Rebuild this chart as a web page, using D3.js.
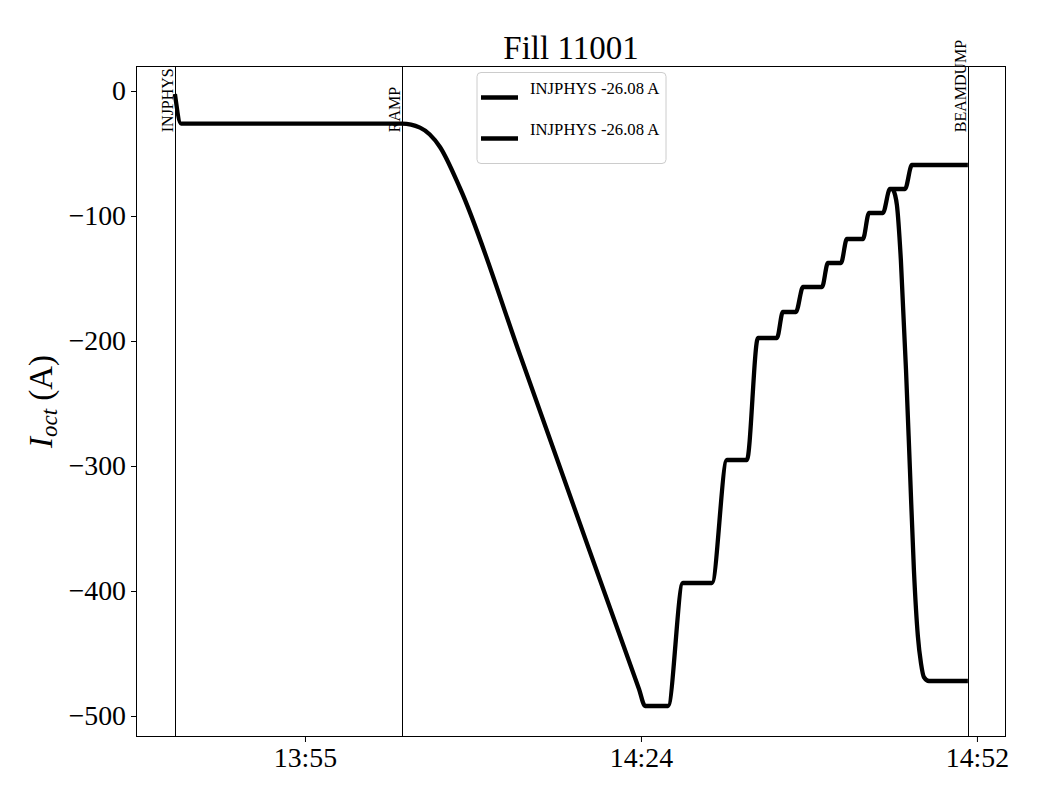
<!DOCTYPE html>
<html>
<head>
<meta charset="utf-8">
<script src="https://cdnjs.cloudflare.com/ajax/libs/d3/7.8.5/d3.min.js"></script>
<style>
  body { margin: 0; background: #fff; }
  svg text { font-family: "Liberation Serif", "Times New Roman", serif; fill: #000; }
</style>
</head>
<body>
<div id="chart"></div>
<script>
// octupole current, main trace (time, amps)
var mainTimes = ["13:44:52", "13:45:23", "14:04:01", "14:05:32", "14:07:13", "14:08:54",
  "14:14:00", "14:19:00", "14:24:00", "14:24:31", "14:26:27", "14:27:42", "14:30:09", "14:31:25",
  "14:33:06", "14:34:02", "14:35:38", "14:36:08", "14:37:14", "14:37:50", "14:39:26", "14:39:56",
  "14:41:02", "14:41:32", "14:42:53", "14:43:24", "14:44:34", "14:45:10", "14:46:26", "14:47:01",
  "14:51:44"];
var mainValues = [-2.4, -26.08, -26.08, -29.3, -44.8, -77.6,
  -212, -345.6, -478.4, -492, -492, -393.6, -393.6, -295.2,
  -295.2, -197.6, -197.6, -176.8, -176.8, -156.8, -156.8, -137.6,
  -137.6, -118.4, -118.4, -97.6, -97.6, -78.4, -78.4, -59.2,
  -59.2];

// second trace, the drop before the dump
var dropTimes = ["14:45:25", "14:45:45", "14:46:05", "14:46:31", "14:46:51", "14:47:11",
  "14:47:31", "14:47:47", "14:48:02", "14:48:27", "14:51:44"];
var dropValues = [-78.4, -91.2, -135, -223, -303, -383, -436, -458, -469, -472, -472];

var legendLabels = ["INJPHYS -26.08 A", "INJPHYS -26.08 A"];

var eventNames = ["INJPHYS", "RAMP", "BEAMDUMP"];
var eventTimes = ["13:44:52", "14:04:01", "14:51:44"];
var eventLabelLevel = -33;

var xTicks = ["13:55:50", "14:24:10", "14:52:30"];
var yTicks = [0, -100, -200, -300, -400, -500];
var xLimits = ["13:41:35", "14:54:57"];
var yLimits = [-516.8, 20];

var parseTime = d3.timeParse("%H:%M:%S");

var W = 1040, H = 800;
var margin = {top: 66, right: 34, bottom: 63, left: 136};
var width = W - margin.left - margin.right;
var height = H - margin.top - margin.bottom;

var svg = d3.select("#chart").append("svg")
  .attr("width", W)
  .attr("height", H);

var plot = svg.append("g")
  .attr("transform", "translate(" + margin.left + "," + margin.top + ")");

var xScale = d3.scaleTime()
  .domain(xLimits.map(parseTime))
  .range([0, width]);

var yScale = d3.scaleLinear()
  .domain(yLimits)
  .range([height, 0]);

var xAxis = d3.axisBottom(xScale)
  .tickValues(xTicks.map(parseTime))
  .tickFormat(d3.timeFormat("%H:%M"))
  .tickSize(5)
  .tickPadding(5)
  .tickSizeOuter(0);

var yAxis = d3.axisLeft(yScale)
  .tickValues(yTicks)
  .tickFormat(function(d) { return d < 0 ? "\u2212" + Math.abs(d) : d; })
  .tickSize(5)
  .tickPadding(5)
  .tickSizeOuter(0);

var gx = plot.append("g")
  .attr("transform", "translate(0," + height + ")")
  .call(xAxis);
var gy = plot.append("g").call(yAxis);

[gx, gy].forEach(function(g) {
  g.select(".domain").remove();
  g.selectAll("line").attr("stroke", "#000").attr("stroke-width", 1);
  g.selectAll("text")
    .style("font-family", "'Liberation Serif', serif")
    .style("font-size", "27.8px");
});

// event markers
eventTimes.forEach(function(t, i) {
  var x = Math.round(xScale(parseTime(t))) + 0.5;
  plot.append("line")
    .attr("x1", x).attr("x2", x)
    .attr("y1", 0).attr("y2", height)
    .attr("stroke", "#000")
    .attr("stroke-width", 1)
    .attr("shape-rendering", "crispEdges");
  plot.append("text")
    .attr("transform", "translate(" + (x - 3) + "," + yScale(eventLabelLevel) + ") rotate(-90)")
    .attr("text-anchor", "start")
    .style("font-size", "16px")
    .text(eventNames[i]);
});

var line = d3.line()
  .x(function(d) { return xScale(d.t); })
  .y(function(d) { return yScale(d.v); })
  .curve(d3.curveMonotoneX);

var series = [
  mainTimes.map(function(t, i) { return {t: parseTime(t), v: mainValues[i]}; }),
  dropTimes.map(function(t, i) { return {t: parseTime(t), v: dropValues[i]}; })
];

plot.selectAll("path.trace")
  .data(series)
  .enter().append("path")
  .attr("class", "trace")
  .attr("d", line)
  .attr("fill", "none")
  .attr("stroke", "#000")
  .attr("stroke-width", 4.3)
  .attr("stroke-linejoin", "round")
  .attr("stroke-linecap", "butt");

// frame
plot.append("rect")
  .attr("x", 0.5)
  .attr("y", 0.5)
  .attr("width", width - 1)
  .attr("height", height - 1)
  .attr("fill", "none")
  .attr("stroke", "#000")
  .attr("stroke-width", 1)
  .attr("shape-rendering", "crispEdges");

// legend, upper centre
var legW = 189, legH = 91;
var legend = plot.append("g")
  .attr("transform", "translate(" + (width / 2 - legW / 2 + 0.5) + ",6.5)");
legend.append("rect")
  .attr("width", legW)
  .attr("height", legH)
  .attr("rx", 4)
  .attr("fill", "#fff")
  .attr("fill-opacity", 0.8)
  .attr("stroke", "#ccc")
  .attr("stroke-width", 1);

legendLabels.forEach(function(lab, i) {
  var y = 25 + i * 41;
  legend.append("line")
    .attr("x1", 4).attr("x2", 41)
    .attr("y1", y).attr("y2", y)
    .attr("stroke", "#000")
    .attr("stroke-width", 4.3);
  legend.append("text")
    .attr("x", 53)
    .attr("y", y - 4)
    .style("font-size", "16.7px")
    .text(lab);
});

// title
svg.append("text")
  .attr("x", margin.left + width / 2)
  .attr("y", 59)
  .attr("text-anchor", "middle")
  .style("font-size", "33px")
  .text("Fill 11001");

// y label
var ylab = svg.append("text")
  .attr("transform", "translate(52," + (margin.top + height / 2) + ") rotate(-90)")
  .attr("text-anchor", "middle")
  .style("font-size", "33px");
ylab.append("tspan").style("font-style", "italic").text("I");
ylab.append("tspan").style("font-style", "italic").style("font-size", "23px").attr("dy", "0.22em").text("oct");
ylab.append("tspan").attr("dy", "-0.16em").text(" (A)");
</script>
</body>
</html>
